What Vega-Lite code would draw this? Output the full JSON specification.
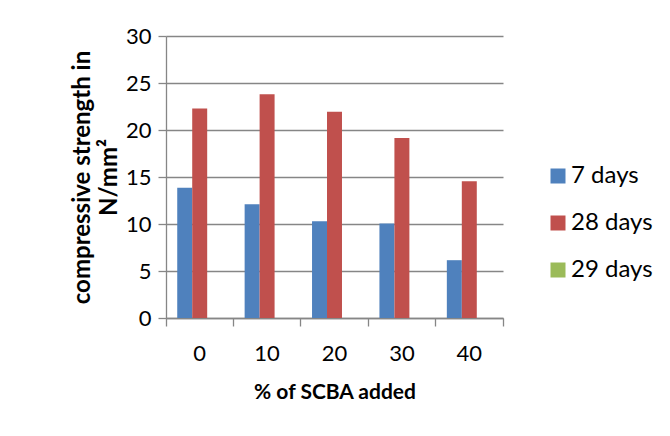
{
  "$schema": "https://vega.github.io/schema/vega-lite/v6.json",
  "autosize": {"type": "none"},
  "width": 337,
  "height": 282,
  "padding": {"left": 166, "top": 36, "right": 167, "bottom": 118},
  "background": "white",
  "data": {
    "values": [
      {"scba": "0", "series": "7 days", "strength": 13.85},
      {"scba": "0", "series": "28 days", "strength": 22.3},
      {"scba": "0", "series": "29 days", "strength": 0},
      {"scba": "10", "series": "7 days", "strength": 12.1},
      {"scba": "10", "series": "28 days", "strength": 23.8},
      {"scba": "10", "series": "29 days", "strength": 0},
      {"scba": "20", "series": "7 days", "strength": 10.3},
      {"scba": "20", "series": "28 days", "strength": 21.95},
      {"scba": "20", "series": "29 days", "strength": 0},
      {"scba": "30", "series": "7 days", "strength": 10.05},
      {"scba": "30", "series": "28 days", "strength": 19.15},
      {"scba": "30", "series": "29 days", "strength": 0},
      {"scba": "40", "series": "7 days", "strength": 6.15},
      {"scba": "40", "series": "28 days", "strength": 14.55},
      {"scba": "40", "series": "29 days", "strength": 0}
    ]
  },
  "mark": {"type": "bar"},
  "encoding": {
    "x": {
      "field": "scba",
      "type": "nominal",
      "sort": ["0", "10", "20", "30", "40"],
      "scale": {"paddingInner": 0, "paddingOuter": 0},
      "axis": {
        "title": "% of SCBA added",
        "labelAngle": 0,
        "bandPosition": 1,
        "tickExtra": true,
        "tickSize": 8,
        "labelPadding": 17,
        "titleY": 74,
        "titleBaseline": "middle"
      }
    },
    "xOffset": {
      "field": "series",
      "type": "nominal",
      "sort": ["7 days", "28 days", "29 days"],
      "scale": {"paddingInner": 0, "paddingOuter": 0.75}
    },
    "y": {
      "field": "strength",
      "type": "quantitative",
      "scale": {"domain": [0, 30], "nice": false},
      "axis": {
        "values": [0, 5, 10, 15, 20, 25, 30],
        "title": ["compressive strength in", "N/mm²"],
        "tickSize": 8,
        "labelPadding": 7,
        "titleAngle": -90,
        "titleX": -84,
        "titleY": 141,
        "titleAlign": "center",
        "titleBaseline": "middle",
        "titleFontSize": 24,
        "titleLineHeight": 27
      }
    },
    "color": {
      "field": "series",
      "type": "nominal",
      "sort": ["7 days", "28 days", "29 days"],
      "scale": {
        "domain": ["7 days", "28 days", "29 days"],
        "range": ["#4F81BD", "#C0504D", "#9BBB59"]
      },
      "legend": {
        "title": null,
        "orient": "none",
        "legendX": 380,
        "legendY": 128,
        "symbolType": "square",
        "symbolSize": 225,
        "symbolStrokeWidth": 0,
        "rowPadding": 23,
        "labelFontSize": 24,
        "labelFont": "Lato",
        "labelColor": "black",
        "labelOffset": 1
      }
    }
  },
  "config": {
    "view": {"stroke": null},
    "axis": {
      "labelFont": "Lato",
      "titleFont": "Lato",
      "labelFontSize": 22,
      "titleFontSize": 21,
      "titleFontWeight": "bold",
      "labelColor": "black",
      "titleColor": "black",
      "domainColor": "#868686",
      "tickColor": "#868686",
      "gridColor": "#868686",
      "domainWidth": 1.3,
      "tickWidth": 1.3,
      "gridWidth": 1.3
    },
    "axisX": {"grid": false},
    "axisY": {"grid": true, "domain": true}
  }
}
